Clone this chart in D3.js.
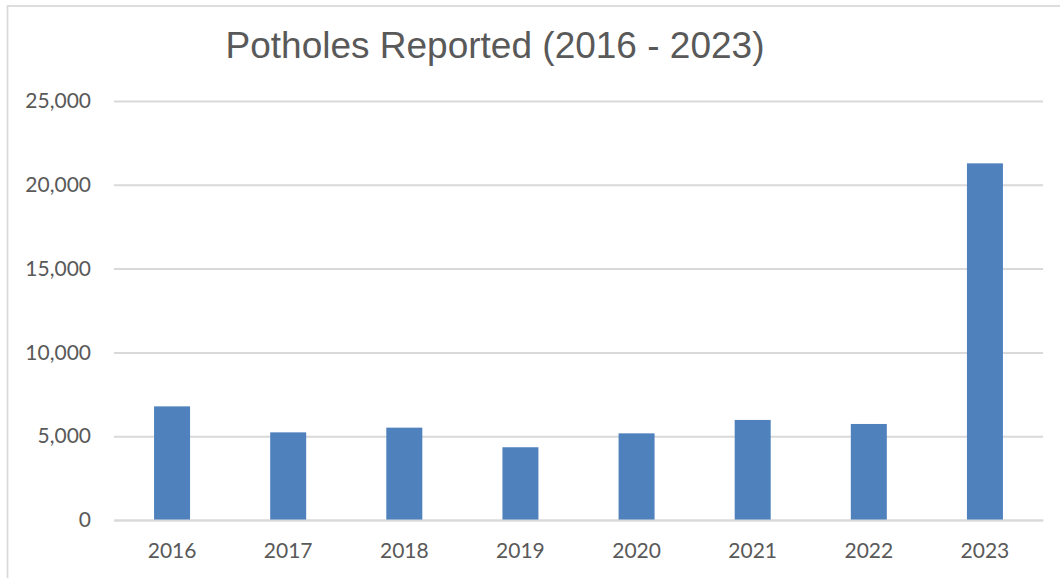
<!DOCTYPE html>
<html>
<head>
<meta charset="utf-8">
<script src="https://cdn.jsdelivr.net/npm/d3@7"></script>
<style>
  body { margin: 0; background: #fff; }
</style>
</head>
<body>
<svg id="barchart"></svg>
<script>
var years = ["2016", "2017", "2018", "2019", "2020", "2021", "2022", "2023"]
var potholes = [6780, 5230, 5510, 4340, 5170, 5970, 5730, 21280]
var yTicks = [0, 5000, 10000, 15000, 20000, 25000]
var titleText = "Potholes Reported (2016 - 2023)"

var dimensions = {
  width: 1060,
  height: 578,
  margin: { top: 101, bottom: 58, right: 17, left: 114 }
}

var svg = d3.select("#barchart")
            .attr("width", dimensions.width)
            .attr("height", dimensions.height)

// chart frame (only top + left edges are visible in the crop)
svg.append("rect")
   .attr("x", 7.5).attr("y", 6)
   .attr("width", 1200).attr("height", 800)
   .attr("fill", "none")
   .attr("stroke", "#d9d9d9")
   .attr("stroke-width", 1.75)

var xScale = d3.scaleBand()
               .domain(years)
               .range([dimensions.margin.left, dimensions.width - dimensions.margin.right])
               .paddingInner(0.69)
               .paddingOuter(0.345)

var yScale = d3.scaleLinear()
               .domain([0, 25000])
               .range([dimensions.height - dimensions.margin.bottom, dimensions.margin.top])

// gridlines + y labels
var yAxisGen = d3.axisLeft(yScale)
                 .tickValues(yTicks)
                 .tickFormat(d3.format(","))
                 .tickSize(-(dimensions.width - dimensions.margin.right - dimensions.margin.left))
                 .tickPadding(23)
var yAxis = svg.append("g")
               .attr("transform", `translate(${dimensions.margin.left},0)`)
               .call(yAxisGen)
yAxis.select(".domain").remove()
yAxis.selectAll(".tick line").attr("stroke", "#d9d9d9").attr("stroke-width", 2)
yAxis.selectAll(".tick text")
     .attr("fill", "#595959")
     .style("font-family", "Lato, 'Open Sans', sans-serif")
     .style("font-size", "21px")

// bars
svg.append("g")
   .selectAll("rect")
   .data(potholes)
   .enter()
   .append("rect")
   .attr("x", (d, i) => xScale(years[i]))
   .attr("y", d => yScale(d))
   .attr("width", xScale.bandwidth())
   .attr("height", d => yScale(0) - yScale(d))
   .attr("fill", "#4f81bd")

// x axis labels
var xAxisGen = d3.axisBottom(xScale).tickSize(0).tickPadding(23)
var xAxis = svg.append("g")
               .attr("transform", `translate(0,${yScale(0)})`)
               .call(xAxisGen)
xAxis.select(".domain").attr("stroke", "#d9d9d9").attr("stroke-width", 2)
xAxis.selectAll(".tick text")
     .attr("fill", "#595959")
     .style("font-family", "Lato, 'Open Sans', sans-serif")
     .style("font-size", "21px")

// title
svg.append("text")
   .attr("x", 495)
   .attr("y", 58)
   .attr("text-anchor", "middle")
   .attr("fill", "#595959")
   .style("font-family", "'Liberation Sans', Arial, sans-serif")
   .style("font-size", "37px")
   .text(titleText)
</script>
</body>
</html>
